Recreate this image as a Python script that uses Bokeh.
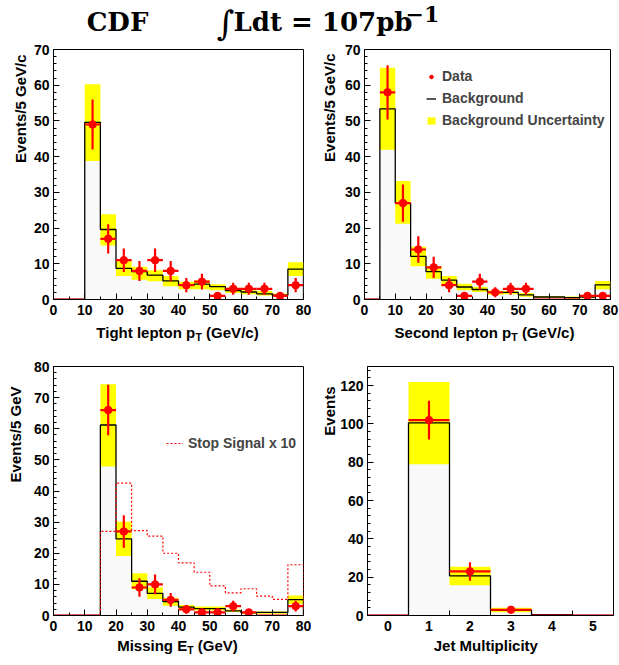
import numpy as np
from bokeh.plotting import figure
from bokeh.models import Range1d, FixedTicker, Label, Legend, LegendItem
from bokeh.layouts import column, row
from bokeh.embed import file_html
from bokeh.resources import INLINE

# ---------------- data ----------------
pt_edges = [0, 5, 10, 15, 20, 25, 30, 35, 40, 45, 50, 55, 60, 65, 70, 75, 80]

tight_data = [0, 0, 49, 17, 11, 8, 11, 8, 4, 5, 1, 3, 3, 3, 1, 4]
tight_err = [0, 0, 7.0, 4.1, 3.3, 2.8, 3.3, 2.8, 2.0, 2.2, 1.0, 1.7, 1.7, 1.7, 1.0, 2.0]
tight_bkg = [0, 0, 49.6, 19.6, 8.7, 7.8, 6.8, 5.2, 4.0, 4.3, 3.6, 2.5, 2.1, 1.6, 1.2, 8.5]
tight_lo = [0, 0, 38.8, 15.1, 6.6, 5.5, 5.1, 3.7, 2.9, 2.9, 2.6, 1.8, 1.5, 1.1, 0.75, 6.6]
tight_hi = [0, 0, 60.3, 23.9, 10.9, 9.2, 8.2, 6.6, 5.0, 5.4, 4.3, 3.3, 2.6, 2.4, 1.7, 10.4]

second_data = [0, 58, 27, 14, 9, 4, 1, 5, 2, 3, 3, 0, 0, 0, 1, 1]
second_err = [0, 7.6, 5.2, 3.7, 3.0, 2.0, 1.0, 2.2, 1.4, 1.7, 1.7, 0, 0, 0, 1.0, 1.0]
second_bkg = [0, 53.4, 27.0, 12.1, 7.8, 5.4, 3.5, 2.8, 2.0, 2.0, 1.3, 0.7, 0.7, 0.55, 0.65, 4.1]
second_lo = [0, 41.9, 21.2, 9.3, 5.8, 3.8, 2.6, 2.1, 1.3, 1.5, 0.8, 0.45, 0.45, 0.3, 0.35, 2.9]
second_hi = [0, 64.9, 33.2, 14.8, 9.4, 6.6, 4.4, 3.6, 2.5, 2.4, 1.8, 0.9, 0.9, 0.85, 0.9, 5.2]

met_data = [0, 0, 0, 66, 27, 9, 10, 5, 2, 1, 1, 3, 1, 0, 0, 3]
met_err = [0, 0, 0, 8.1, 5.2, 3.0, 3.2, 2.2, 1.4, 1.0, 1.0, 1.7, 1.0, 0, 0, 1.7]
met_bkg = [0, 0, 0, 61.2, 24.6, 11.0, 7.1, 4.5, 2.7, 2.2, 2.2, 1.5, 0.9, 1.0, 1.0, 5.1]
met_lo = [0, 0, 0, 47.9, 19.1, 8.4, 5.3, 3.1, 1.9, 1.6, 1.6, 1.1, 0.5, 0.6, 0.6, 3.7]
met_hi = [0, 0, 0, 74.3, 30.1, 13.6, 9.1, 5.7, 3.4, 2.9, 2.9, 1.9, 1.2, 1.3, 1.3, 6.4]
met_stop = [0, 0, 0, 27.0, 42.5, 27.3, 25.5, 20.0, 16.9, 13.9, 9.5, 7.3, 8.6, 6.2, 5.2, 16.3]

jet_bins = [0, 1, 2, 3, 4, 5]
jet_data = [0, 102, 23, 3, 0, 0]
jet_err = [0, 10.1, 4.8, 1.7, 0, 0]
jet_bkg = [0, 100.6, 20.7, 2.8, 0.4, 0]
jet_lo = [0, 79.0, 15.8, 1.7, 0.2, 0]
jet_hi = [0, 121.9, 25.5, 4.0, 0.6, 0]

pt_ticks = [0, 10, 20, 30, 40, 50, 60, 70, 80]
jet_ticks = [0, 1, 2, 3, 4, 5]

# ---------------- helpers ----------------
RED = "#ff0000"
YEL = "#ffff00"
SANS = "Liberation Sans"
SERIF = "DejaVu Serif"

ARIAL_B = {' ': 0.278, '(': 0.333, ')': 0.333, '/': 0.278, 'G': 0.778, 'V': 0.667,
           'c': 0.556, 'T': 0.611, 'i': 0.278, 'g': 0.611, 'h': 0.611, 't': 0.333,
           'l': 0.278, 'e': 0.556, 'p': 0.611, 'o': 0.611, 'n': 0.611, 'S': 0.667,
           'd': 0.611, 'M': 0.833, 's': 0.556, 'E': 0.667}


def tw(s, size):
    return sum(ARIAL_B.get(ch, 0.6) for ch in s) * size


def strip(w, h):
    """A bare figure whose data coordinates are its pixels (y upward)."""
    s = figure(frame_width=w, frame_height=h, min_border=0, x_range=Range1d(0, w),
               y_range=Range1d(0, h), toolbar_location=None, output_backend="svg",
               x_axis_location=None, y_axis_location=None, outline_line_color=None)
    s.grid.visible = False
    return s


def label(s, text, x, y, size, align="left", baseline="middle", angle=0,
          font=SANS, style="bold", color="black"):
    s.add_layout(Label(x=x, y=y, text=text, text_font=font, text_font_size=f"{size}px",
                       text_font_style=style, text_color=color, text_align=align,
                       text_baseline=baseline, angle=angle, angle_units="deg"))


def xtitle(s, cx, y, main1, sub="", main2=""):
    total = tw(main1, 15) + tw(sub, 10.5) + tw(" " + main2, 15)
    x0 = cx - total / 2
    label(s, main1, x0, y, 15)
    if sub:
        label(s, sub, x0 + tw(main1, 15), y - 4, 10.5)
        label(s, main2, x0 + tw(main1, 15) + tw(sub, 10.5) + tw(" ", 15), y, 15)


def step_xy(edges, vals):
    xs = [edges[0]]
    ys = [0]
    for i, v in enumerate(vals):
        xs += [edges[i], edges[i + 1]]
        ys += [v, v]
    xs.append(edges[-1])
    ys.append(0)
    return xs, ys


def panel(edges, data, err, bkg, lo, hi, xr, yr, xticks, xminor, yticks, yminor,
          fw, fh, bl, br, bt, bb):
    p = figure(frame_width=fw, frame_height=fh, min_border_left=bl, min_border_right=br,
               min_border_top=bt, min_border_bottom=bb, x_range=Range1d(*xr),
               y_range=Range1d(*yr), toolbar_location=None, output_backend="svg",
               background_fill_color="white", border_fill_color="white",
               outline_line_color="black", outline_line_width=1)
    p.grid.visible = False
    for ax, tk, mn in ((p.xaxis, xticks, xminor), (p.yaxis, yticks, yminor)):
        ax.ticker = FixedTicker(ticks=tk, minor_ticks=mn)
        ax.axis_line_color = "black"
        ax.major_tick_line_color = "black"
        ax.minor_tick_line_color = "black"
        ax.major_tick_in = 6
        ax.major_tick_out = 0
        ax.minor_tick_in = 3
        ax.minor_tick_out = 0
        ax.major_label_text_font = SANS
        ax.major_label_text_font_style = "bold"
        ax.major_label_text_font_size = "14px"
        ax.major_label_text_color = "black"
    p.xaxis.major_label_standoff = 5
    p.yaxis.major_label_standoff = 4

    left = np.array(edges[:-1], dtype=float)
    right = np.array(edges[1:], dtype=float)
    cen = (left + right) / 2
    d = np.array(data, dtype=float)
    e = np.array(err, dtype=float)

    p.quad(left=left, right=right, bottom=0, top=bkg, fill_color="#f9f9f9", line_color=None)
    band = p.quad(left=left, right=right, bottom=lo, top=hi, fill_color=YEL, line_color=None)
    xs, ys = step_xy(edges, bkg)
    bline = p.line(xs, ys, line_color="black", line_width=1.3)
    extras = {"band": band, "bline": bline}

    p.segment(x0=left, x1=right, y0=d, y1=d, line_color=RED, line_width=2.2)
    nz = d > 0
    p.segment(x0=cen[nz], x1=cen[nz], y0=(d - e)[nz], y1=(d + e)[nz], line_color=RED, line_width=2.2)
    dots = p.scatter(cen[nz], d[nz], size=7.5, marker="circle", fill_color=RED, line_color=RED)
    extras["dots"] = dots
    return p, extras


W = 619
pt_minor = list(range(0, 81, 5))

# ---------------- title strip ----------------
t = strip(W, 42)
label(t, "CDF", 117, 21, 26, align="center", font=SERIF)
label(t, "\u222b", 225, 20, 34, align="center", font=SERIF, style="normal")
label(t, "Ldt = 107pb", 233, 21, 26, font=SERIF)
label(t, "\u22121", 405, 29, 22, font=SERIF)

# ---------------- top row ----------------
p1, e1 = panel(pt_edges, tight_data, tight_err, tight_bkg, tight_lo, tight_hi, (0, 80), (0, 70),
               pt_ticks, pt_minor, list(range(0, 71, 10)), list(range(0, 71, 2)),
               250, 250, 22, 8, 7, 21)
p2, e2 = panel(pt_edges, second_data, second_err, second_bkg, second_lo, second_hi, (0, 80), (0, 70),
               pt_ticks, pt_minor, list(range(0, 71, 10)), list(range(0, 71, 2)),
               246, 250, 21, 12, 7, 21)
leg2 = Legend(items=[LegendItem(label="Data", renderers=[e2["dots"]]),
                     LegendItem(label="Background", renderers=[e2["bline"]]),
                     LegendItem(label="Background Uncertainty", renderers=[e2["band"]])],
              location=(62, 171), padding=0, margin=0, spacing=6, glyph_width=10,
              glyph_height=9, label_height=16, label_standoff=6,
              label_text_font=SANS, label_text_font_style="bold", label_text_font_size="14px",
              border_line_color=None, background_fill_alpha=0)
p2.add_layout(leg2)

yl1 = strip(30, 278)
label(yl1, "Events/5 GeV/c", 20, 273, 15, align="right", angle=90)
yl2 = strip(30, 278)
label(yl2, "Events/5 GeV/c", 18, 274, 15, align="right", angle=90)

xt1 = strip(W, 25)
xtitle(xt1, 177, 13, "Tight lepton p", "T", "(GeV/c)")
xtitle(xt1, 484, 13, "Second lepton p", "T", "(GeV/c)")

# ---------------- bottom row ----------------
p3, e3 = panel(pt_edges, met_data, met_err, met_bkg, met_lo, met_hi, (0, 80), (0, 80),
               pt_ticks, pt_minor, list(range(0, 81, 10)), list(range(0, 81, 2)),
               250, 249, 22, 8, 21, 21)
sx, sy = step_xy(pt_edges, met_stop)
stop = p3.line(sx, sy, line_color=RED, line_width=1.2, line_dash="2 2")
leg3 = Legend(items=[LegendItem(label="Stop Signal x 10", renderers=[stop])],
              location=(113, 164), padding=0, margin=0, glyph_width=17, glyph_height=16,
              label_height=16, label_standoff=5, label_text_font=SANS,
              label_text_font_style="bold", label_text_font_size="14px",
              border_line_color=None, background_fill_alpha=0)
p3.add_layout(leg3)

jet_edges = [b - 0.5 for b in jet_bins] + [jet_bins[-1] + 0.5]
p4, e4 = panel(jet_edges, jet_data, jet_err, jet_bkg, jet_lo, jet_hi, (-0.5, 5.5), (0, 130),
               jet_ticks, [b + 0.5 for b in jet_bins[:-1]], list(range(0, 121, 20)),
               list(range(0, 131, 4)), 246, 249, 29, 8, 21, 21)
p4.xaxis.major_tick_in = 0
p4.xaxis.minor_tick_in = 5

yl3 = strip(30, 291)
label(yl3, "Events/5 GeV", 15, 271, 15, align="right", angle=90)
yl4 = strip(26, 291)
label(yl4, "Events", 18, 271, 15, align="right", angle=90)

xt2 = strip(W, 29)
xtitle(xt2, 177, 20, "Missing E", "T", "(GeV)")
xtitle(xt2, 488, 20, "Jet Multiplicity")

layout = column(t, row(yl1, p1, yl2, p2), xt1, row(yl3, p3, yl4, p4), xt2)

with open("out.html", "w") as f:
    f.write(file_html(layout, INLINE))
